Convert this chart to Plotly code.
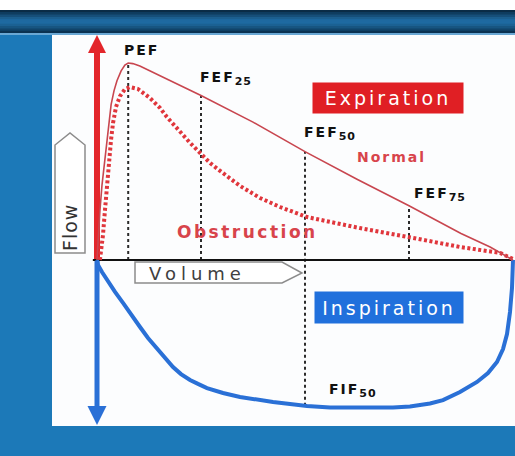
import numpy as np
import plotly.graph_objects as go

# ---------------- data (volume in % of vital capacity, flow in arbitrary units) ----------------
normal_volume = [0, 0.25, 0.7, 1.2, 1.9, 2.6, 3.4, 4.1, 4.8, 5.8, 6.7, 7.5, 8.6, 10.3, 12.7,
                 18.8, 25, 37.5, 50, 62.5, 75, 87.5, 94.5, 100]
normal_flow = [0, 1.0, 2.5, 3.8, 5.1, 6.6, 7.9, 8.6, 9.1, 9.6, 9.9, 10.0, 9.97, 9.85, 9.6,
               8.98, 8.35, 7.0, 5.5, 4.1, 2.75, 1.35, 0.66, 0]

obstruction_volume = [0.7, 1.44, 1.92, 2.4, 2.88, 3.37, 3.85, 4.57, 5.53, 6.73, 7.93, 9.86,
                      12.74, 15.14, 16.8, 19.95, 22.4, 24.8, 27.2, 29.6, 34.4, 39.2, 44.0,
                      50.5, 63.2, 76.0, 87.3, 96.9, 100]
obstruction_flow = [0, 1.27, 2.54, 3.81, 5.08, 6.09, 6.95, 7.77, 8.32, 8.68, 8.78, 8.68,
                    8.22, 7.72, 7.26, 6.5, 5.94, 5.43, 4.92, 4.52, 3.76, 3.15, 2.69,
                    2.18, 1.62, 1.12, 0.66, 0.36, 0.05]

inspiration_volume = [0, 0.24, 1.2, 2.4, 4.33, 6.25, 8.17, 10.34, 12.26, 14.42, 16.35, 18.27,
                      20.19, 22.36, 24.28, 26.44, 30.29, 34.38, 42.31, 46.39, 50.48, 56.01,
                      63.22, 71.15, 75.24, 80.05, 83.17, 87.26, 91.35, 93.99, 96.15, 97.6,
                      98.56, 99.28, 99.76, 100, 100]
inspiration_flow = [0, -0.25, -0.61, -1.02, -1.62, -2.18, -2.79, -3.40, -3.96, -4.47, -4.97,
                    -5.43, -5.79, -6.09, -6.29, -6.5, -6.75, -6.95, -7.21, -7.31, -7.41, -7.49,
                    -7.51, -7.49, -7.44, -7.28, -7.11, -6.70, -6.19, -5.74, -5.18, -4.52,
                    -3.76, -2.64, -1.42, -0.51, 0]

marker_volumes = [7.5, 25, 50, 75]
marker_names = [("PEF", ""), ("FEF", "25"), ("FEF", "50"), ("FEF", "75")]
fif_volume = 50
fif_name = ("FIF", "50")

# ---------------- geometry of the canvas ----------------
W, H = 515, 456
PX_X, PX_Y = 4.16, 19.7          # pixels per volume unit / flow unit
ORIGIN_PX = (97, 260)
x_range = [-ORIGIN_PX[0] / PX_X, (W - ORIGIN_PX[0]) / PX_X]
y_range = [-(H - ORIGIN_PX[1]) / PX_Y, ORIGIN_PX[1] / PX_Y]


def vx(px):
    return (px - ORIGIN_PX[0]) / PX_X


def fy(py):
    return (ORIGIN_PX[1] - py) / PX_Y


RED = "#e3262b"
BLUE = "#2a70d6"
NORMAL_RED = "#c8464f"
DOT_RED = "#e0363c"
TXT_RED = "#d8444b"
FONT = "DejaVu Sans"

fig = go.Figure()


def normal_at(v):
    return float(np.interp(v, normal_volume, normal_flow))


def insp_at(v):
    return float(np.interp(v, inspiration_volume, inspiration_flow))


# dotted reference lines
for v in marker_volumes:
    low = insp_at(v) if v == fif_volume else 0
    fig.add_trace(go.Scatter(x=[v, v], y=[low, normal_at(v)], mode="lines",
                             line=dict(color="#2b2b2b", width=2, dash="3px,3px"),
                             hoverinfo="skip", showlegend=False))

# flow axis arrows (red up = expiration, blue down = inspiration)
for tip_px, base_px, col, lw, head, sym in [(35, 50, RED, 6, 18, "arrow-up"),
                                             (425, 410, BLUE, 5, 19, "arrow-down")]:
    fig.add_trace(go.Scatter(x=[0, 0], y=[0, fy(base_px)], mode="lines",
                             line=dict(color=col, width=lw), hoverinfo="skip", showlegend=False))
    fig.add_trace(go.Scatter(x=[0], y=[fy(tip_px)], mode="markers",
                             marker=dict(symbol=sym, size=head, color=col, line=dict(width=0)),
                             hoverinfo="skip", showlegend=False))

# volume axis line
fig.add_trace(go.Scatter(x=[-1, 100], y=[0, 0], mode="lines",
                         line=dict(color="#111111", width=2), hoverinfo="skip", showlegend=False))

# curves
fig.add_trace(go.Scatter(x=inspiration_volume, y=inspiration_flow, mode="lines",
                         line=dict(color=BLUE, width=4),
                         name="Inspiration", showlegend=False))
fig.add_trace(go.Scatter(x=obstruction_volume, y=obstruction_flow, mode="lines",
                         line=dict(color=DOT_RED, width=4, dash="3px,2.5px"),
                         name="Obstruction", showlegend=False))
fig.add_trace(go.Scatter(x=normal_volume, y=normal_flow, mode="lines",
                         line=dict(color=NORMAL_RED, width=1.6),
                         name="Normal", showlegend=False))


def sp(text, size, s, extra=""):
    return f'<span style="font-size:{size}px;letter-spacing:{s}px{extra}">{text}</span>'


def label(text, x, y, size, color="#111111", bold=True, spacing=2, **kw):
    fig.add_annotation(x=x, y=y, xref="x", yref="y", showarrow=False,
                       text=text if text.startswith("<span") else sp(text, size, spacing),
                       font=dict(family=FONT, size=size, color=color,
                                 weight="bold" if bold else "normal"), **kw)


def index_label(name, size=14):
    main, idx = name
    t = sp(main, size, 2)
    if idx:
        t += sp(idx, 11, 1, ";baseline-shift:-3px")
    return t


label_pos = [(141, 50), (226, 78), (330, 133), (440, 194)]
for nm, (px, py) in zip(marker_names, label_pos):
    label(index_label(nm), vx(px), fy(py), 14)
label(index_label(fif_name), vx(353), fy(390), 14)

label("Normal", vx(391), fy(157), 14, color=TXT_RED, spacing=2)
label("Obstruction", vx(247), fy(232), 17, color=TXT_RED, spacing=2.5)

fig.add_annotation(x=vx(388), y=fy(98), xref="x", yref="y", showarrow=False,
                   text=sp("Expiration", 19, 3), bgcolor="#e01f24", width=150, height=30,
                   borderpad=0, font=dict(family=FONT, size=19, color="white"))
fig.add_annotation(x=vx(389), y=fy(307.5), xref="x", yref="y", showarrow=False,
                   text=sp("Inspiration", 19, 3), bgcolor="#2070dc", width=148, height=31,
                   borderpad=0, font=dict(family=FONT, size=19, color="white"))

# Flow / Volume axis tags (pentagon arrows)
flow_tag = f"M{vx(55)},{fy(253)} L{vx(55)},{fy(145)} L{vx(70)},{fy(133)} L{vx(85)},{fy(145)} L{vx(85)},{fy(253)} Z"
vol_tag = f"M{vx(135)},{fy(262)} L{vx(282)},{fy(262)} L{vx(302)},{fy(273)} L{vx(282)},{fy(283)} L{vx(135)},{fy(283)} Z"
for p in (flow_tag, vol_tag):
    fig.add_shape(type="path", path=p, xref="x", yref="y",
                  line=dict(color="#8c8c8c", width=1.5), fillcolor="white", layer="below")
fig.add_annotation(x=vx(70), y=fy(228), xref="x", yref="y", showarrow=False,
                   text=sp("Flow", 19, 1), textangle=-90,
                   font=dict(family=FONT, size=19, color="#333333"))
fig.add_annotation(x=vx(197), y=fy(273), xref="x", yref="y", showarrow=False,
                   text=sp("Volume", 18, 5),
                   font=dict(family=FONT, size=18, color="#404040"))


# background decoration (slide frame)
def band(y_top_px, y_bot_px, color, x0=0, x1=1):
    fig.add_shape(type="rect", xref="paper", yref="paper", x0=x0, x1=x1,
                  y0=1 - y_bot_px / H, y1=1 - y_top_px / H,
                  fillcolor=color, line=dict(width=0), layer="below")


band(0, 10, "#ffffff")
band_colors = ["#0a2c46", "#0f3d5f", "#164f79", "#1b5f8f", "#1e69a0", "#1e6aa1",
               "#1b6193", "#175581", "#11446a", "#0b3251"]
step = 23 / len(band_colors)
for i, c in enumerate(band_colors):
    band(10 + i * step, 10 + (i + 1) * step + 0.5, c)
band(33, 35, "#6aa8d4")
band(35, 426, "#fcfdfe", x0=52 / W, x1=1)

fig.update_layout(
    width=W, height=H, autosize=False,
    margin=dict(l=0, r=0, t=0, b=0, pad=0),
    paper_bgcolor="#1c79b8", plot_bgcolor="rgba(0,0,0,0)",
    xaxis=dict(range=x_range, visible=False, fixedrange=True),
    yaxis=dict(range=y_range, visible=False, fixedrange=True),
    showlegend=False,
)

fig.write_html("out.html", config={"displayModeBar": False},
               post_script="document.body.style.margin='0px';document.body.style.overflow='hidden';")
